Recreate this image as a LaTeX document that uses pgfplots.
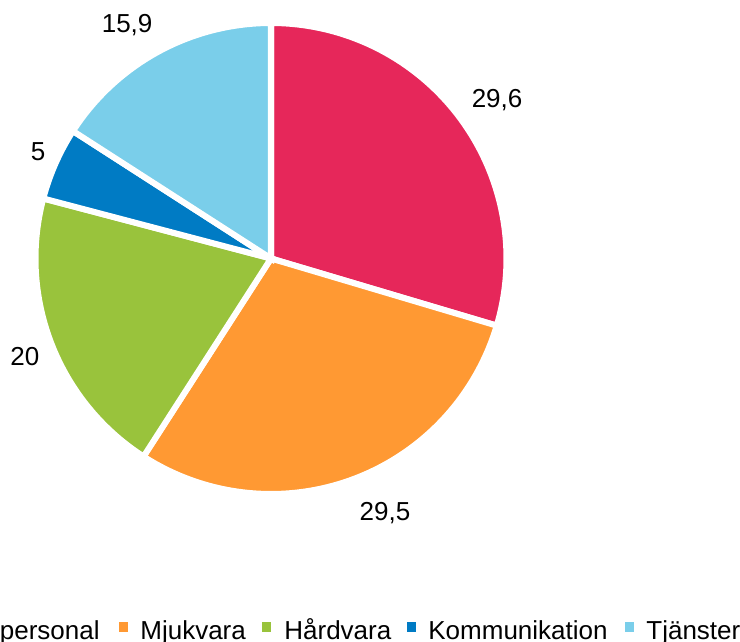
\documentclass[border=0pt]{standalone}
\usepackage{pgfplots}
\pgfplotsset{compat=1.18}
\usepackage{fontspec}
\setmainfont{Liberation Sans}
\definecolor{cRed}{HTML}{E6275A}
\definecolor{cOrange}{HTML}{FF9933}
\definecolor{cGreen}{HTML}{99C33C}
\definecolor{cBlue}{HTML}{007BC4}
\definecolor{cLight}{HTML}{7ACEEA}
% slice: cumulative start, value, colour
\newcommand{\slice}[3]{%
  \pgfmathsetmacro\sa{90-3.6*(#1+#2)}%
  \pgfmathsetmacro\sb{90-3.6*(#1)}%
  \addplot[fill=#3, draw=white, line width=3pt, line join=miter,
    domain=\sa:\sb, samples=120, variable=\t]
    ({cos(\t)},{sin(\t)}) -- (axis cs:0,0) -- cycle;
}
\begin{document}
\begin{tikzpicture}[font=\fontsize{13pt}{15pt}\selectfont]
\useasboundingbox (0,0) rectangle (370pt,321pt);
\clip (0,0) rectangle (370pt,321pt);
\begin{axis}[
  at={(135.5pt,191.75pt)}, anchor=center,
  width=235.5pt, height=235.5pt, scale only axis,
  xmin=-1, xmax=1, ymin=-1, ymax=1,
  hide axis, clip=false]
\slice{0}{29.6}{cRed}
\slice{29.6}{29.5}{cOrange}
\slice{59.1}{20}{cGreen}
\slice{79.1}{5}{cBlue}
\slice{84.1}{15.9}{cLight}
\node at (axis cs:0.960,0.673) {29,6};
\node at (axis cs:0.484,-1.081) {29,5};
\node at (axis cs:-1.045,-0.418) {20};
\node at (axis cs:-0.989,0.452) {5};
\node at (axis cs:-0.611,0.992) {15,9};
\end{axis}
% legend
\node[anchor=base east, inner sep=0pt] at (50pt,1.35pt) {IT-personal};
\fill[cOrange] (59.65pt,5pt) rectangle (64.15pt,9.8pt);
\node[anchor=base west, inner sep=0pt] at (70pt,1.35pt) {Mjukvara};
\fill[cGreen] (130.85pt,5pt) rectangle (135.35pt,9.8pt);
\node[anchor=base west, inner sep=0pt] at (142pt,1.35pt) {Hårdvara};
\fill[cBlue] (203.5pt,5pt) rectangle (208pt,9.8pt);
\node[anchor=base west, inner sep=0pt] at (214pt,1.35pt) {Kommunikation};
\fill[cLight] (312.5pt,5pt) rectangle (317pt,9.8pt);
\node[anchor=base west, inner sep=0pt] at (323pt,1.35pt) {Tjänster};
\end{tikzpicture}
\end{document}
